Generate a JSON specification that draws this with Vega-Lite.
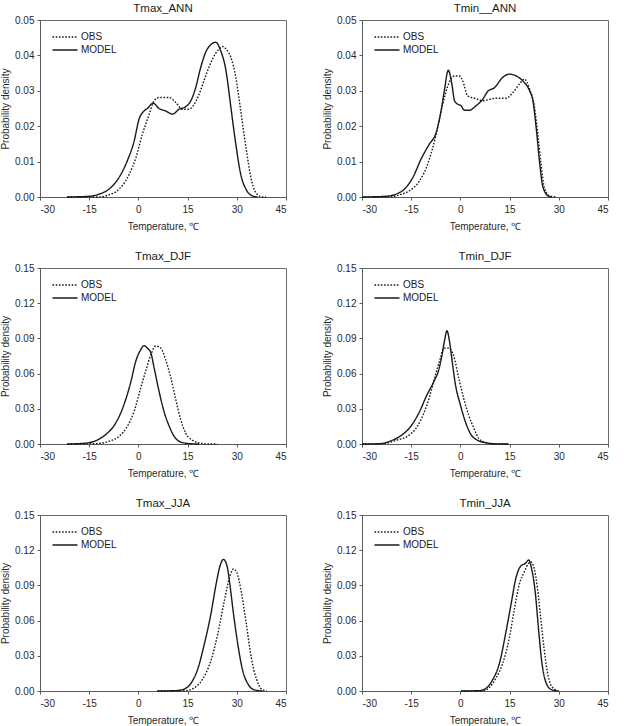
{
  "$schema": "https://vega.github.io/schema/vega-lite/v6.json",
  "padding": {"left": 0, "top": 2, "right": 2, "bottom": 2},
  "background": "white",
  "datasets": {
    "tmax_ann": [
      {"series": "MODEL", "temp": -21.7, "density": 0}, {"series": "MODEL", "temp": -15, "density": 0.0002}, {"series": "MODEL", "temp": -12, "density": 0.0008},
      {"series": "MODEL", "temp": -9, "density": 0.0022}, {"series": "MODEL", "temp": -5.9, "density": 0.0055}, {"series": "MODEL", "temp": -3.4, "density": 0.0102},
      {"series": "MODEL", "temp": -1.3, "density": 0.0158}, {"series": "MODEL", "temp": 0.2, "density": 0.022}, {"series": "MODEL", "temp": 1.7, "density": 0.0243},
      {"series": "MODEL", "temp": 2.7, "density": 0.025}, {"series": "MODEL", "temp": 4.5, "density": 0.0265}, {"series": "MODEL", "temp": 6.3, "density": 0.025},
      {"series": "MODEL", "temp": 8.3, "density": 0.0243}, {"series": "MODEL", "temp": 10.4, "density": 0.0234}, {"series": "MODEL", "temp": 12.4, "density": 0.0248},
      {"series": "MODEL", "temp": 14.4, "density": 0.0255}, {"series": "MODEL", "temp": 16, "density": 0.0272}, {"series": "MODEL", "temp": 17.5, "density": 0.031},
      {"series": "MODEL", "temp": 19, "density": 0.0366}, {"series": "MODEL", "temp": 21, "density": 0.0418}, {"series": "MODEL", "temp": 23.6, "density": 0.0437},
      {"series": "MODEL", "temp": 25.1, "density": 0.0413}, {"series": "MODEL", "temp": 26.7, "density": 0.0357}, {"series": "MODEL", "temp": 28.2, "density": 0.0253},
      {"series": "MODEL", "temp": 29.7, "density": 0.0149}, {"series": "MODEL", "temp": 31.2, "density": 0.0064}, {"series": "MODEL", "temp": 32.8, "density": 0.0022},
      {"series": "MODEL", "temp": 34.8, "density": 0.0003}, {"series": "MODEL", "temp": 36.3, "density": 0},
      {"series": "OBS", "temp": -21.7, "density": 0}, {"series": "OBS", "temp": -12, "density": 0}, {"series": "OBS", "temp": -9, "density": 0.0006},
      {"series": "OBS", "temp": -5.9, "density": 0.0022}, {"series": "OBS", "temp": -2.8, "density": 0.0064}, {"series": "OBS", "temp": -0.8, "density": 0.011},
      {"series": "OBS", "temp": 1.2, "density": 0.0177}, {"series": "OBS", "temp": 3.3, "density": 0.0234}, {"series": "OBS", "temp": 4.8, "density": 0.0272},
      {"series": "OBS", "temp": 6.3, "density": 0.0281}, {"series": "OBS", "temp": 9.4, "density": 0.0281}, {"series": "OBS", "temp": 11.4, "density": 0.0267},
      {"series": "OBS", "temp": 13.4, "density": 0.0248}, {"series": "OBS", "temp": 15.5, "density": 0.0248}, {"series": "OBS", "temp": 17, "density": 0.0262},
      {"series": "OBS", "temp": 18.5, "density": 0.029}, {"series": "OBS", "temp": 20.5, "density": 0.0342}, {"series": "OBS", "temp": 22.6, "density": 0.039},
      {"series": "OBS", "temp": 24.6, "density": 0.0418}, {"series": "OBS", "temp": 25.8, "density": 0.0425}, {"series": "OBS", "temp": 26.7, "density": 0.0418},
      {"series": "OBS", "temp": 28.2, "density": 0.0394}, {"series": "OBS", "temp": 29.7, "density": 0.0338}, {"series": "OBS", "temp": 31.2, "density": 0.0243},
      {"series": "OBS", "temp": 32.8, "density": 0.014}, {"series": "OBS", "temp": 34.3, "density": 0.0055}, {"series": "OBS", "temp": 35.8, "density": 0.0012},
      {"series": "OBS", "temp": 37.8, "density": 0}, {"series": "OBS", "temp": 38.9, "density": 0}
    ],
    "tmin_ann": [
      {"series": "MODEL", "temp": -30, "density": 0}, {"series": "MODEL", "temp": -22.7, "density": 0.0002}, {"series": "MODEL", "temp": -19.6, "density": 0.0008},
      {"series": "MODEL", "temp": -17.1, "density": 0.0022}, {"series": "MODEL", "temp": -14.5, "density": 0.0055}, {"series": "MODEL", "temp": -12, "density": 0.0107},
      {"series": "MODEL", "temp": -9.5, "density": 0.0149}, {"series": "MODEL", "temp": -7.4, "density": 0.0182}, {"series": "MODEL", "temp": -5.9, "density": 0.0243},
      {"series": "MODEL", "temp": -4.9, "density": 0.03}, {"series": "MODEL", "temp": -3.7, "density": 0.0358}, {"series": "MODEL", "temp": -2.6, "density": 0.0319},
      {"series": "MODEL", "temp": -1.8, "density": 0.0272}, {"series": "MODEL", "temp": -0.8, "density": 0.0262}, {"series": "MODEL", "temp": 0.2, "density": 0.0258},
      {"series": "MODEL", "temp": 1.2, "density": 0.0245}, {"series": "MODEL", "temp": 2.7, "density": 0.0245}, {"series": "MODEL", "temp": 4.8, "density": 0.0258},
      {"series": "MODEL", "temp": 6.8, "density": 0.0276}, {"series": "MODEL", "temp": 8.3, "density": 0.0298}, {"series": "MODEL", "temp": 10.4, "density": 0.0309},
      {"series": "MODEL", "temp": 12.9, "density": 0.0338}, {"series": "MODEL", "temp": 15, "density": 0.0347}, {"series": "MODEL", "temp": 17, "density": 0.0342},
      {"series": "MODEL", "temp": 19, "density": 0.0328}, {"series": "MODEL", "temp": 21.1, "density": 0.03}, {"series": "MODEL", "temp": 22.1, "density": 0.0272},
      {"series": "MODEL", "temp": 23.1, "density": 0.0196}, {"series": "MODEL", "temp": 24.1, "density": 0.0102}, {"series": "MODEL", "temp": 25.1, "density": 0.0031},
      {"series": "MODEL", "temp": 26.7, "density": 0.0003}, {"series": "MODEL", "temp": 27.7, "density": 0},
      {"series": "OBS", "temp": -30, "density": 0}, {"series": "OBS", "temp": -21.7, "density": 0}, {"series": "OBS", "temp": -18.6, "density": 0.0006},
      {"series": "OBS", "temp": -15.6, "density": 0.0017}, {"series": "OBS", "temp": -12.5, "density": 0.0045}, {"series": "OBS", "temp": -10, "density": 0.0092},
      {"series": "OBS", "temp": -7.4, "density": 0.0177}, {"series": "OBS", "temp": -5.4, "density": 0.0262}, {"series": "OBS", "temp": -3.4, "density": 0.0324},
      {"series": "OBS", "temp": -1.8, "density": 0.0342}, {"series": "OBS", "temp": -0.3, "density": 0.0342}, {"series": "OBS", "temp": 0.7, "density": 0.0328},
      {"series": "OBS", "temp": 2.2, "density": 0.0286}, {"series": "OBS", "temp": 4.3, "density": 0.0279}, {"series": "OBS", "temp": 6.8, "density": 0.0272},
      {"series": "OBS", "temp": 8.9, "density": 0.0276}, {"series": "OBS", "temp": 10.9, "density": 0.0279}, {"series": "OBS", "temp": 13.9, "density": 0.0279},
      {"series": "OBS", "temp": 16, "density": 0.0295}, {"series": "OBS", "temp": 18, "density": 0.0319}, {"series": "OBS", "temp": 19.5, "density": 0.0333},
      {"series": "OBS", "temp": 21.1, "density": 0.0305}, {"series": "OBS", "temp": 22.6, "density": 0.0253}, {"series": "OBS", "temp": 23.6, "density": 0.0177},
      {"series": "OBS", "temp": 24.6, "density": 0.0092}, {"series": "OBS", "temp": 25.6, "density": 0.0026}, {"series": "OBS", "temp": 27.2, "density": 0.0003},
      {"series": "OBS", "temp": 29.2, "density": 0}
    ],
    "tmax_djf": [
      {"series": "MODEL", "temp": -21.7, "density": 0}, {"series": "MODEL", "temp": -16.6, "density": 0.0006}, {"series": "MODEL", "temp": -13, "density": 0.0028},
      {"series": "MODEL", "temp": -10, "density": 0.008}, {"series": "MODEL", "temp": -6.9, "density": 0.0179}, {"series": "MODEL", "temp": -4.4, "density": 0.0335},
      {"series": "MODEL", "temp": -2.3, "density": 0.053}, {"series": "MODEL", "temp": -0.8, "density": 0.0705}, {"series": "MODEL", "temp": 0.7, "density": 0.0804},
      {"series": "MODEL", "temp": 1.7, "density": 0.0838}, {"series": "MODEL", "temp": 2.7, "density": 0.0818}, {"series": "MODEL", "temp": 3.8, "density": 0.0776},
      {"series": "MODEL", "temp": 4.8, "density": 0.0648}, {"series": "MODEL", "temp": 6.3, "density": 0.0449}, {"series": "MODEL", "temp": 7.8, "density": 0.0278},
      {"series": "MODEL", "temp": 9.4, "density": 0.0151}, {"series": "MODEL", "temp": 10.9, "density": 0.0065}, {"series": "MODEL", "temp": 12.9, "density": 0.0017},
      {"series": "MODEL", "temp": 15.5, "density": 0.0003}, {"series": "MODEL", "temp": 18.5, "density": 0},
      {"series": "OBS", "temp": -21.7, "density": 0}, {"series": "OBS", "temp": -13, "density": 0.0003}, {"series": "OBS", "temp": -9, "density": 0.0023},
      {"series": "OBS", "temp": -5.9, "density": 0.0065}, {"series": "OBS", "temp": -3.4, "density": 0.015}, {"series": "OBS", "temp": -1.3, "density": 0.0278},
      {"series": "OBS", "temp": 0.7, "density": 0.0477}, {"series": "OBS", "temp": 2.2, "density": 0.0619}, {"series": "OBS", "temp": 3.8, "density": 0.0761},
      {"series": "OBS", "temp": 5.3, "density": 0.0835}, {"series": "OBS", "temp": 6.8, "density": 0.0818}, {"series": "OBS", "temp": 8.3, "density": 0.0719},
      {"series": "OBS", "temp": 9.9, "density": 0.0563}, {"series": "OBS", "temp": 11.4, "density": 0.0378}, {"series": "OBS", "temp": 12.9, "density": 0.0207},
      {"series": "OBS", "temp": 14.4, "density": 0.0094}, {"series": "OBS", "temp": 16.5, "density": 0.0031}, {"series": "OBS", "temp": 18.5, "density": 0.0009},
      {"series": "OBS", "temp": 21.6, "density": 0}, {"series": "OBS", "temp": 24.1, "density": 0}
    ],
    "tmin_djf": [
      {"series": "MODEL", "temp": -30, "density": 0}, {"series": "MODEL", "temp": -24.4, "density": 0.0003}, {"series": "MODEL", "temp": -21.3, "density": 0.0026},
      {"series": "MODEL", "temp": -18.3, "density": 0.0068}, {"series": "MODEL", "temp": -15.2, "density": 0.0148}, {"series": "MODEL", "temp": -12.7, "density": 0.0262},
      {"series": "MODEL", "temp": -10.2, "density": 0.0418}, {"series": "MODEL", "temp": -8.1, "density": 0.0532}, {"series": "MODEL", "temp": -6.6, "density": 0.0632},
      {"series": "MODEL", "temp": -5.6, "density": 0.076}, {"series": "MODEL", "temp": -4.8, "density": 0.0888}, {"series": "MODEL", "temp": -4.1, "density": 0.0965},
      {"series": "MODEL", "temp": -3.4, "density": 0.0888}, {"series": "MODEL", "temp": -2.5, "density": 0.0703}, {"series": "MODEL", "temp": -1.5, "density": 0.0504},
      {"series": "MODEL", "temp": 0, "density": 0.0333}, {"series": "MODEL", "temp": 1.5, "density": 0.0191}, {"series": "MODEL", "temp": 3, "density": 0.0091},
      {"series": "MODEL", "temp": 5.1, "density": 0.0034}, {"series": "MODEL", "temp": 8.1, "density": 0.0009}, {"series": "MODEL", "temp": 12.2, "density": 0},
      {"series": "MODEL", "temp": 14.7, "density": 0},
      {"series": "OBS", "temp": -30, "density": 0}, {"series": "OBS", "temp": -23.4, "density": 0.0003}, {"series": "OBS", "temp": -19.3, "density": 0.0034},
      {"series": "OBS", "temp": -16.3, "density": 0.0063}, {"series": "OBS", "temp": -13.2, "density": 0.0148}, {"series": "OBS", "temp": -10.2, "density": 0.0333},
      {"series": "OBS", "temp": -7.6, "density": 0.0589}, {"series": "OBS", "temp": -6.1, "density": 0.0732}, {"series": "OBS", "temp": -5.1, "density": 0.0817},
      {"series": "OBS", "temp": -3.6, "density": 0.0817}, {"series": "OBS", "temp": -2, "density": 0.0746}, {"series": "OBS", "temp": -0.5, "density": 0.0561},
      {"series": "OBS", "temp": 1, "density": 0.039}, {"series": "OBS", "temp": 2.5, "density": 0.0248}, {"series": "OBS", "temp": 4.1, "density": 0.0134},
      {"series": "OBS", "temp": 5.6, "density": 0.0048}, {"series": "OBS", "temp": 7.6, "density": 0.0014}, {"series": "OBS", "temp": 10.2, "density": 0},
      {"series": "OBS", "temp": 14.2, "density": 0}
    ],
    "tmax_jja": [
      {"series": "MODEL", "temp": 5.8, "density": 0}, {"series": "MODEL", "temp": 11.4, "density": 0.0003}, {"series": "MODEL", "temp": 14, "density": 0.0017},
      {"series": "MODEL", "temp": 16, "density": 0.0065}, {"series": "MODEL", "temp": 18.1, "density": 0.0188}, {"series": "MODEL", "temp": 20.1, "density": 0.04},
      {"series": "MODEL", "temp": 22.1, "density": 0.0656}, {"series": "MODEL", "temp": 23.7, "density": 0.0912}, {"series": "MODEL", "temp": 24.9, "density": 0.1068},
      {"series": "MODEL", "temp": 25.9, "density": 0.1122}, {"series": "MODEL", "temp": 27, "density": 0.1068}, {"series": "MODEL", "temp": 28, "density": 0.0884},
      {"series": "MODEL", "temp": 29, "density": 0.0656}, {"series": "MODEL", "temp": 30.3, "density": 0.04}, {"series": "MODEL", "temp": 31.8, "density": 0.0173},
      {"series": "MODEL", "temp": 33.4, "density": 0.006}, {"series": "MODEL", "temp": 35.4, "density": 0.0009}, {"series": "MODEL", "temp": 37.9, "density": 0},
      {"series": "OBS", "temp": 5.8, "density": 0}, {"series": "OBS", "temp": 14.5, "density": 0.0003}, {"series": "OBS", "temp": 17, "density": 0.0026},
      {"series": "OBS", "temp": 19.6, "density": 0.0102}, {"series": "OBS", "temp": 22.1, "density": 0.0259}, {"series": "OBS", "temp": 24.2, "density": 0.0486},
      {"series": "OBS", "temp": 26.2, "density": 0.077}, {"series": "OBS", "temp": 27.8, "density": 0.0969}, {"series": "OBS", "temp": 29, "density": 0.104},
      {"series": "OBS", "temp": 30, "density": 0.1011}, {"series": "OBS", "temp": 31.3, "density": 0.0855}, {"series": "OBS", "temp": 32.9, "density": 0.0571},
      {"series": "OBS", "temp": 34.4, "density": 0.0287}, {"series": "OBS", "temp": 36, "density": 0.0102}, {"series": "OBS", "temp": 37.5, "density": 0.0017},
      {"series": "OBS", "temp": 39.1, "density": 0}
    ],
    "tmin_jja": [
      {"series": "MODEL", "temp": 0.2, "density": 0}, {"series": "MODEL", "temp": 5.8, "density": 0.0003}, {"series": "MODEL", "temp": 7.8, "density": 0.0023},
      {"series": "MODEL", "temp": 9.8, "density": 0.0094}, {"series": "MODEL", "temp": 11.9, "density": 0.0236}, {"series": "MODEL", "temp": 13.9, "density": 0.0506},
      {"series": "MODEL", "temp": 15.4, "density": 0.0733}, {"series": "MODEL", "temp": 16.9, "density": 0.096}, {"series": "MODEL", "temp": 18.4, "density": 0.1065},
      {"series": "MODEL", "temp": 19.8, "density": 0.1088}, {"series": "MODEL", "temp": 20.8, "density": 0.1116}, {"series": "MODEL", "temp": 21.8, "density": 0.1031},
      {"series": "MODEL", "temp": 22.8, "density": 0.0847}, {"series": "MODEL", "temp": 23.8, "density": 0.0534}, {"series": "MODEL", "temp": 24.8, "density": 0.025},
      {"series": "MODEL", "temp": 26, "density": 0.008}, {"series": "MODEL", "temp": 27.6, "density": 0.0014}, {"series": "MODEL", "temp": 29.6, "density": 0},
      {"series": "OBS", "temp": 0.2, "density": 0}, {"series": "OBS", "temp": 6.8, "density": 0.0003}, {"series": "OBS", "temp": 8.8, "density": 0.0028},
      {"series": "OBS", "temp": 10.8, "density": 0.0108}, {"series": "OBS", "temp": 12.9, "density": 0.0236}, {"series": "OBS", "temp": 14.9, "density": 0.0449},
      {"series": "OBS", "temp": 16.4, "density": 0.069}, {"series": "OBS", "temp": 17.9, "density": 0.0903}, {"series": "OBS", "temp": 19.5, "density": 0.1017},
      {"series": "OBS", "temp": 20.8, "density": 0.1088}, {"series": "OBS", "temp": 21.5, "density": 0.11}, {"series": "OBS", "temp": 22.5, "density": 0.1045},
      {"series": "OBS", "temp": 23.5, "density": 0.0875}, {"series": "OBS", "temp": 24.5, "density": 0.0619}, {"series": "OBS", "temp": 25.5, "density": 0.0364},
      {"series": "OBS", "temp": 26.5, "density": 0.0165}, {"series": "OBS", "temp": 27.6, "density": 0.0051}, {"series": "OBS", "temp": 29.1, "density": 0.0009},
      {"series": "OBS", "temp": 30.1, "density": 0}
    ]
  },
  "bounds": "full",
  "spacing": 18,
  "resolve": {"scale": {"x": "independent", "y": "independent", "strokeDash": "independent"}, "legend": {"strokeDash": "independent"}},
  "vconcat": [
    {
      "bounds": "flush",
      "spacing": 76,
      "resolve": {"scale": {"x": "independent", "y": "independent", "strokeDash": "independent"}, "legend": {"strokeDash": "independent"}},
      "hconcat": [
        {
          "title": "Tmax_ANN", "width": 246, "height": 177,
          "data": {"name": "tmax_ann"},
          "mark": {"type": "line"},
          "encoding": {
            "x": {"field": "temp", "type": "quantitative", "scale": {"domain": [-30, 45], "nice": false}, "axis": {"values": [-30, -15, 0, 15, 30, 45], "title": "Temperature, ℃"}},
            "y": {"field": "density", "type": "quantitative", "scale": {"domain": [0, 0.05], "nice": false}, "axis": {"values": [0, 0.01, 0.02, 0.03, 0.04, 0.05], "format": ".2f", "title": "Probability density"}},
            "strokeDash": {"field": "series", "type": "nominal", "scale": {"domain": ["OBS", "MODEL"], "range": [[1.6, 1.6], [1, 0]]}, "legend": {"orient": "none", "legendX": 18, "legendY": 10, "title": null}}
          }
        },
        {
          "title": "Tmin__ANN", "width": 246, "height": 177,
          "data": {"name": "tmin_ann"},
          "mark": {"type": "line"},
          "encoding": {
            "x": {"field": "temp", "type": "quantitative", "scale": {"domain": [-30, 45], "nice": false}, "axis": {"values": [-30, -15, 0, 15, 30, 45], "title": "Temperature, ℃"}},
            "y": {"field": "density", "type": "quantitative", "scale": {"domain": [0, 0.05], "nice": false}, "axis": {"values": [0, 0.01, 0.02, 0.03, 0.04, 0.05], "format": ".2f", "title": "Probability density"}},
            "strokeDash": {"field": "series", "type": "nominal", "scale": {"domain": ["OBS", "MODEL"], "range": [[1.6, 1.6], [1, 0]]}, "legend": {"orient": "none", "legendX": 18, "legendY": 10, "title": null}}
          }
        }
      ]
    },
    {
      "bounds": "flush",
      "spacing": 76,
      "resolve": {"scale": {"x": "independent", "y": "independent", "strokeDash": "independent"}, "legend": {"strokeDash": "independent"}},
      "hconcat": [
        {
          "title": "Tmax_DJF", "width": 246, "height": 176,
          "data": {"name": "tmax_djf"},
          "mark": {"type": "line"},
          "encoding": {
            "x": {"field": "temp", "type": "quantitative", "scale": {"domain": [-30, 45], "nice": false}, "axis": {"values": [-30, -15, 0, 15, 30, 45], "title": "Temperature, ℃"}},
            "y": {"field": "density", "type": "quantitative", "scale": {"domain": [0, 0.15], "nice": false}, "axis": {"values": [0, 0.03, 0.06, 0.09, 0.12, 0.15], "format": ".2f", "title": "Probability density"}},
            "strokeDash": {"field": "series", "type": "nominal", "scale": {"domain": ["OBS", "MODEL"], "range": [[1.6, 1.6], [1, 0]]}, "legend": {"orient": "none", "legendX": 18, "legendY": 10, "title": null}}
          }
        },
        {
          "title": "Tmin_DJF", "width": 246, "height": 176,
          "data": {"name": "tmin_djf"},
          "mark": {"type": "line"},
          "encoding": {
            "x": {"field": "temp", "type": "quantitative", "scale": {"domain": [-30, 45], "nice": false}, "axis": {"values": [-30, -15, 0, 15, 30, 45], "title": "Temperature, ℃"}},
            "y": {"field": "density", "type": "quantitative", "scale": {"domain": [0, 0.15], "nice": false}, "axis": {"values": [0, 0.03, 0.06, 0.09, 0.12, 0.15], "format": ".2f", "title": "Probability density"}},
            "strokeDash": {"field": "series", "type": "nominal", "scale": {"domain": ["OBS", "MODEL"], "range": [[1.6, 1.6], [1, 0]]}, "legend": {"orient": "none", "legendX": 18, "legendY": 10, "title": null}}
          }
        }
      ]
    },
    {
      "bounds": "flush",
      "spacing": 76,
      "resolve": {"scale": {"x": "independent", "y": "independent", "strokeDash": "independent"}, "legend": {"strokeDash": "independent"}},
      "hconcat": [
        {
          "title": "Tmax_JJA", "width": 246, "height": 176,
          "data": {"name": "tmax_jja"},
          "mark": {"type": "line"},
          "encoding": {
            "x": {"field": "temp", "type": "quantitative", "scale": {"domain": [-30, 45], "nice": false}, "axis": {"values": [-30, -15, 0, 15, 30, 45], "title": "Temperature, ℃"}},
            "y": {"field": "density", "type": "quantitative", "scale": {"domain": [0, 0.15], "nice": false}, "axis": {"values": [0, 0.03, 0.06, 0.09, 0.12, 0.15], "format": ".2f", "title": "Probability density"}},
            "strokeDash": {"field": "series", "type": "nominal", "scale": {"domain": ["OBS", "MODEL"], "range": [[1.6, 1.6], [1, 0]]}, "legend": {"orient": "none", "legendX": 18, "legendY": 10, "title": null}}
          }
        },
        {
          "title": "Tmin_JJA", "width": 246, "height": 176,
          "data": {"name": "tmin_jja"},
          "mark": {"type": "line"},
          "encoding": {
            "x": {"field": "temp", "type": "quantitative", "scale": {"domain": [-30, 45], "nice": false}, "axis": {"values": [-30, -15, 0, 15, 30, 45], "title": "Temperature, ℃"}},
            "y": {"field": "density", "type": "quantitative", "scale": {"domain": [0, 0.15], "nice": false}, "axis": {"values": [0, 0.03, 0.06, 0.09, 0.12, 0.15], "format": ".2f", "title": "Probability density"}},
            "strokeDash": {"field": "series", "type": "nominal", "scale": {"domain": ["OBS", "MODEL"], "range": [[1.6, 1.6], [1, 0]]}, "legend": {"orient": "none", "legendX": 18, "legendY": 10, "title": null}}
          }
        }
      ]
    }
  ],
  "config": {
    "font": "Liberation Sans",
    "view": {"stroke": "#6a6a6a", "strokeWidth": 1},
    "axis": {
      "grid": false,
      "domainColor": "#5a5a5a",
      "tickColor": "#5a5a5a",
      "tickSize": 3,
      "labelColor": "#2a2a2a",
      "labelFontSize": 10,
      "labelPadding": 3,
      "titleColor": "#2a2a2a",
      "titleFontSize": 10,
      "titleFontWeight": "normal"
    },
    "axisX": {"titlePadding": 7, "labelPadding": 4, "labelExpr": "datum.value < 0 ? '-' + abs(datum.value) : '' + datum.value"},
    "axisY": {"titlePadding": 4},
    "title": {"fontSize": 11.5, "fontWeight": "normal", "color": "#1a1a1a", "offset": 1},
    "legend": {
      "symbolType": "M-2,0H2",
      "symbolSize": 156,
      "symbolStrokeWidth": 1.4,
      "symbolStrokeColor": "#1a1a1a",
      "labelFontSize": 10,
      "labelColor": "#1a1a1a",
      "labelOffset": 9,
      "rowPadding": 1,
      "padding": 0
    },
    "line": {"interpolate": "monotone", "strokeWidth": 1.4, "color": "#1a1a1a"}
  }
}
